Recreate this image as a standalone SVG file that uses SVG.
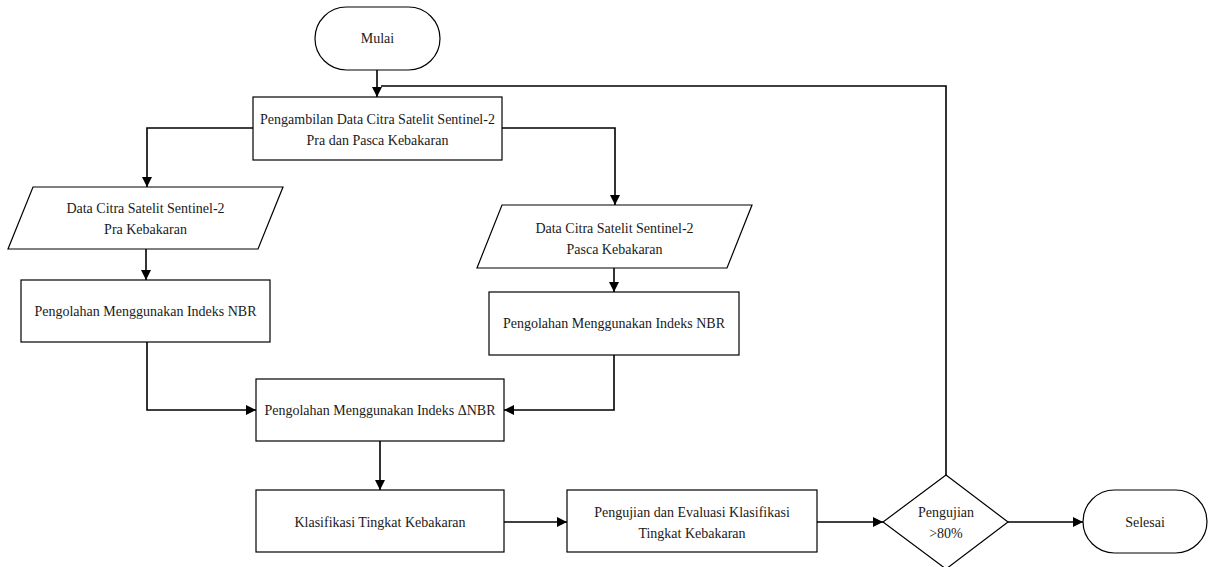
<svg xmlns="http://www.w3.org/2000/svg" width="1208" height="567" viewBox="0 0 1208 567" font-family="'Liberation Serif', 'Times New Roman', serif">
<style>
.s{fill:#fff;stroke:#000;stroke-width:1.2}
.t{font-family:'Liberation Serif','Times New Roman',serif;font-size:14px;fill:#1a1a1a;text-anchor:middle}
.c{fill:none;stroke:#000;stroke-width:1.6}
</style>
<defs>
<marker id="a" viewBox="0 0 10 10" refX="10" refY="5" markerWidth="10" markerHeight="10" markerUnits="userSpaceOnUse" orient="auto">
<path d="M0,0 L10,5 L0,10 Z" fill="#000"/>
</marker>
</defs>
<rect width="1208" height="567" fill="#fff"/>
<g id="connectors">
<path class="c" d="M377,70 V97" marker-end="url(#a)"/>
<path class="c" d="M946,475 V86 H381"/>
<path class="c" d="M253,128 H147 V187" marker-end="url(#a)"/>
<path class="c" d="M502,128 H615 V205" marker-end="url(#a)"/>
<path class="c" d="M146,249 V280" marker-end="url(#a)"/>
<path class="c" d="M614,268 V292" marker-end="url(#a)"/>
<path class="c" d="M147,342 V410 H256" marker-end="url(#a)"/>
<path class="c" d="M614,355 V410 H504" marker-end="url(#a)"/>
<path class="c" d="M380,441 V490" marker-end="url(#a)"/>
<path class="c" d="M504,522 H567" marker-end="url(#a)"/>
<path class="c" d="M817,522 H883" marker-end="url(#a)"/>
<path class="c" d="M1008,522 H1083" marker-end="url(#a)"/>
</g>
<g id="mulai">
<rect class="s" x="315" y="7" width="125" height="63" rx="31.5"/>
<text class="t" x="377.5" y="43">Mulai</text>
</g>
<g id="pengambilan">
<rect class="s" x="253" y="97" width="249" height="63"/>
<text class="t" x="377.5" y="124">Pengambilan Data Citra Satelit Sentinel-2</text>
<text class="t" x="377.5" y="145">Pra dan Pasca Kebakaran</text>
</g>
<g id="data-pra">
<polygon class="s" points="33,187 283,187 258,249 8,249"/>
<text class="t" x="145.5" y="213">Data Citra Satelit Sentinel-2</text>
<text class="t" x="145.5" y="234">Pra Kebakaran</text>
</g>
<g id="data-pasca">
<polygon class="s" points="502,205 752,205 727,268 477,268"/>
<text class="t" x="614.5" y="233">Data Citra Satelit Sentinel-2</text>
<text class="t" x="614.5" y="254">Pasca Kebakaran</text>
</g>
<g id="nbr-pra">
<rect class="s" x="21" y="280" width="249" height="62"/>
<text class="t" x="145.5" y="316">Pengolahan Menggunakan Indeks NBR</text>
</g>
<g id="nbr-pasca">
<rect class="s" x="489" y="292" width="250" height="63"/>
<text class="t" x="614" y="328">Pengolahan Menggunakan Indeks NBR</text>
</g>
<g id="dnbr">
<rect class="s" x="256" y="379" width="248" height="62"/>
<text class="t" x="380" y="415">Pengolahan Menggunakan Indeks ΔNBR</text>
</g>
<g id="klasifikasi">
<rect class="s" x="256" y="490" width="248" height="62"/>
<text class="t" x="380" y="527">Klasifikasi Tingkat Kebakaran</text>
</g>
<g id="pengujian-evaluasi">
<rect class="s" x="567" y="490" width="250" height="62"/>
<text class="t" x="692" y="517">Pengujian dan Evaluasi Klasifikasi</text>
<text class="t" x="692" y="538">Tingkat Kebakaran</text>
</g>
<g id="decision">
<polygon class="s" points="946,475 1008,522 946,569 883,522"/>
<text class="t" x="946" y="517">Pengujian</text>
<text class="t" x="946" y="538">&gt;80%</text>
</g>
<g id="selesai">
<rect class="s" x="1083" y="490" width="124" height="63" rx="31.5"/>
<text class="t" x="1145" y="527">Selesai</text>
</g>
</svg>
